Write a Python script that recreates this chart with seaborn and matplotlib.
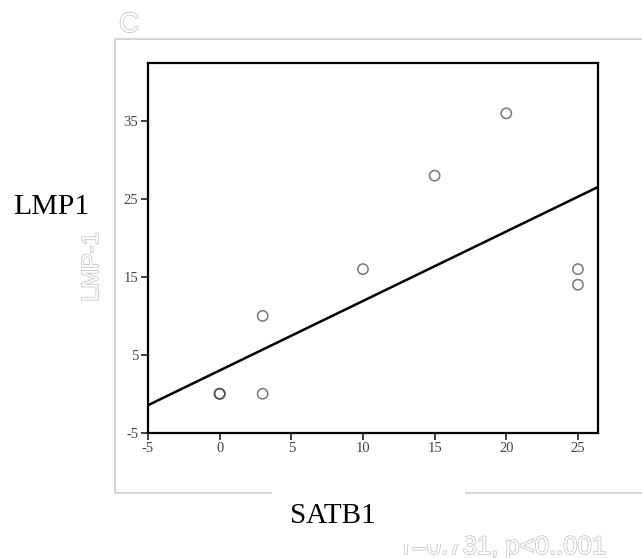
import matplotlib
matplotlib.use("Agg")
import matplotlib.pyplot as plt
import matplotlib.patheffects as pe
from matplotlib.lines import Line2D
from matplotlib.patches import Rectangle
import numpy as np
import pandas as pd
import seaborn as sns

sns.set_theme(style="white")
plt.rcParams["axes.unicode_minus"] = False

# SATB1 vs LMP1 scores (three cases overlap at 0,0)
satb1 = [0, 0, 0, 3, 3, 10, 15, 20, 25, 25]
lmp1 = [0, 0, 0, 0, 10, 16, 28, 36, 16, 14]
x_ticks = [-5, 0, 5, 10, 15, 20, 25]
y_ticks = [-5, 5, 15, 25, 35]
stat_text = "r=0.731, p<0..001"

df = pd.DataFrame({"SATB1": satb1, "LMP1": lmp1})

W, H = 642, 558
fig = plt.figure(figsize=(W / 100, H / 100), dpi=100)
fig.patch.set_facecolor("white")


def fx(px):
    return px / W


def fy(py):
    return 1 - py / H


# light grey frame of the original panel
grey = "#d2d2d2"
frame_kw = dict(color=grey, lw=1.3, transform=fig.transFigure)
fig.add_artist(Line2D([fx(115), fx(642)], [fy(39), fy(39)], **frame_kw))
fig.add_artist(Line2D([fx(115), fx(115)], [fy(39), fy(493)], **frame_kw))
fig.add_artist(Line2D([fx(115), fx(642)], [fy(493), fy(493)], **frame_kw))

# hollow (outlined) grey lettering
hollow = [pe.withStroke(linewidth=1.0, foreground="#bdbdbd")]
fig.text(fx(129), fy(25), "C", color="white", fontsize=20, family="Liberation Sans",
         ha="center", va="center", path_effects=hollow, zorder=2)
fig.text(fx(92), fy(267), "LMP-1", color="white", fontsize=17, family="Liberation Sans",
         rotation=90, ha="center", va="center", path_effects=hollow, zorder=2)
fig.text(fx(505), fy(547), stat_text, color="white", fontsize=18.5, family="Liberation Sans",
         ha="center", va="center", path_effects=hollow, zorder=2)

# white box that hides the grey frame and the top of the stats line
fig.add_artist(Rectangle((fx(272), fy(544)), fx(465) - fx(272), fy(482) - fy(544),
                         transform=fig.transFigure, facecolor="white",
                         edgecolor="none", zorder=3))

fig.text(fx(333), fy(516), "SATB1", fontsize=21, family="Liberation Serif",
         color="black", ha="center", va="center", zorder=4)
fig.text(fx(51), fy(207), "LMP1", fontsize=21.5, family="Liberation Serif",
         color="black", ha="center", va="center", zorder=4)

# main scatter panel
left, right, top, bottom = 148, 598, 62.7, 432.7
ax = fig.add_axes([fx(left), fy(bottom), (right - left) / W, (bottom - top) / H])
ax.set_xlim(-5, 26.4)
ax.set_ylim(-5, 42.5)

sns.regplot(data=df, x="SATB1", y="LMP1", ax=ax, ci=None, truncate=False,
            scatter_kws=dict(s=55, facecolors="none", edgecolors="#555555",
                             linewidths=1.1),
            line_kws=dict(color="black", lw=1.8))
ax.set_xlim(-5, 26.4)
ax.set_ylim(-5, 42.5)

ax.set_xticks(x_ticks)
ax.set_yticks(y_ticks)
ax.set_xlabel("")
ax.set_ylabel("")
for s in ax.spines.values():
    s.set_color("black")
    s.set_linewidth(1.6)
ax.tick_params(axis="both", direction="out", length=5, width=1.3, color="#333333",
               labelsize=10.5, labelcolor="#444444", pad=2,
               bottom=True, left=True)
for lab in ax.get_xticklabels() + ax.get_yticklabels():
    lab.set_family("Liberation Serif")

fig.savefig("out.png", dpi=100, facecolor="white")
